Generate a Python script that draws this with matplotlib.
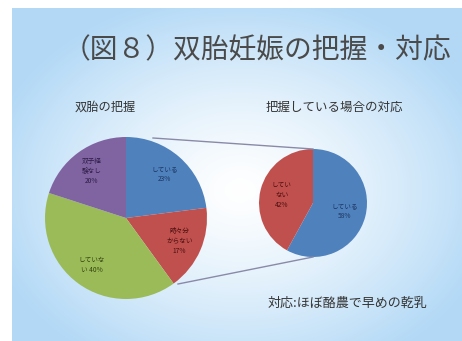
import numpy as np
import matplotlib
matplotlib.use("Agg")
import matplotlib.pyplot as plt

plt.rcParams["font.family"] = ["Noto Sans CJK JP", "DejaVu Sans"]

# ========== DATA ==========
TITLE = "（図８）双胎妊娠の把握・対応"
LEFT_TITLE = "双胎の把握"
RIGHT_TITLE = "把握している場合の対応"
NOTE = "対応:ほぼ酪農で早めの乾乳"

left_values = [23, 17, 40, 20]
left_labels = ["している\n{}%", "時々分\nからない\n{}%", "していな\nい {}%", "双子経\n験なし\n{}%"]
right_values = [58, 42]
right_labels = ["している\n{}%", "してい\nない\n{}%"]
# ==========================

BLUE, RED, GREEN, PURPLE = "#4f81bd", "#c0504d", "#9bbb59", "#8064a2"
left_colors = [BLUE, RED, GREEN, PURPLE]
left_text = ["#1c3560", "#4a0f0f", "#34440f", "#2e1c45"]
right_colors = [BLUE, RED]
right_text = ["#1c3560", "#4a0f0f"]

W, H = 462, 341
fig = plt.figure(figsize=(W / 100, H / 100), dpi=100)
ax = fig.add_axes([0, 0, 1, 1])

# slide background: white centre fading to light blue at the edges
yy, xx = np.mgrid[0:H, 0:W]
t = np.sqrt(((xx - 240) / 260.0) ** 2 + ((yy - 190) / 200.0) ** 2)
t = np.clip(t, 0, 1) ** 1.3
white = np.array([1.0, 1.0, 1.0])
blue = np.array([0.70, 0.85, 0.965])
bg = white * (1 - t[..., None]) + blue * t[..., None]
bg[:8, :] = 1.0
bg[:, :12] = 1.0
ax.imshow(bg, extent=[0, W, 0, H], origin="upper", zorder=0)


def draw_pie(values, labels, colors, tcolors, cx, cy, r, ldist, fs):
    wedges, texts = ax.pie(values, colors=colors, startangle=90, counterclock=False,
                           center=(cx, H - cy), radius=r,
                           labels=[s.format(v) for s, v in zip(labels, values)],
                           labeldistance=ldist,
                           wedgeprops=dict(linewidth=0))
    for txt, c in zip(texts, tcolors):
        txt.set_ha("center")
        txt.set_va("center")
        txt.set_color(c)
        txt.set_fontsize(fs)
        txt.set_linespacing(1.3)
    return wedges


draw_pie(left_values, left_labels, left_colors, left_text, 126, 218, 81, 0.72, 4.8)
draw_pie(right_values, right_labels, right_colors, right_text, 313, 203, 54, 0.6, 4.8)

# connector lines between the two pies
ax.plot([153, 313], [H - 138, H - 149], color="#8a8aa8", lw=1.0, zorder=3)
ax.plot([178, 313], [H - 284, H - 257], color="#8a8aa8", lw=1.0, zorder=3)

ax.set_xlim(0, W)
ax.set_ylim(0, H)
ax.set_aspect("auto")
ax.axis("off")

ax.text(257, H - 50, TITLE, ha="center", va="center", fontsize=20, color="#4a4a4a")
ax.text(105, H - 107, LEFT_TITLE, ha="center", va="center", fontsize=8.8, color="#333333")
ax.text(334, H - 107, RIGHT_TITLE, ha="center", va="center", fontsize=9.0, color="#333333")
ax.text(347, H - 303, NOTE, ha="center", va="center", fontsize=9.4, color="#333333")

fig.savefig("out.png", dpi=100)
